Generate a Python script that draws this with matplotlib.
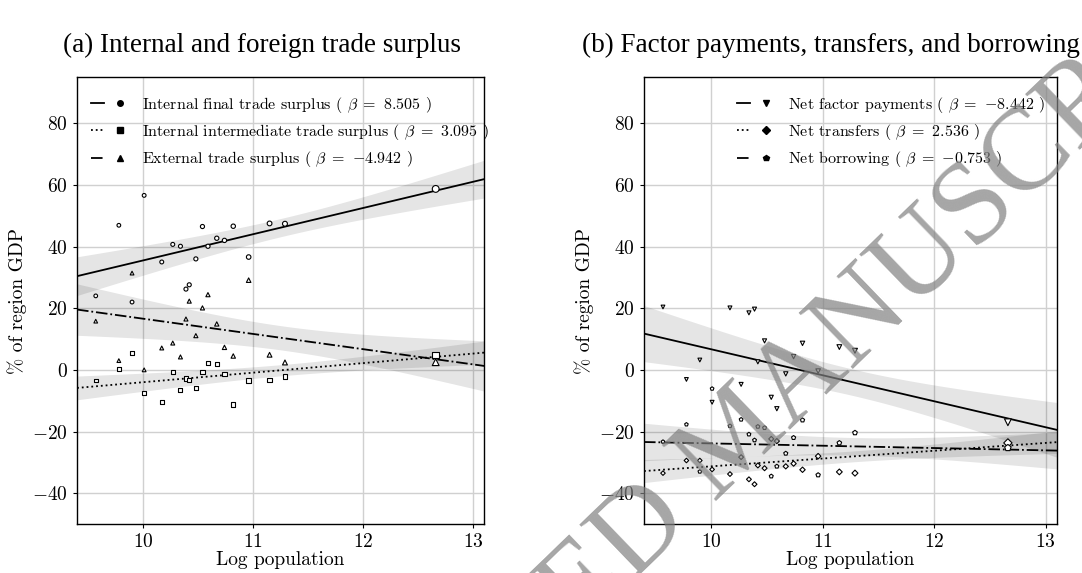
"""
Regional trade surplus and its financing against log population.
"""
import numpy as np
import matplotlib
matplotlib.use("Agg")
import matplotlib.pyplot as plt
from matplotlib.lines import Line2D
from matplotlib.legend_handler import HandlerTuple

# ---- data ---------------------------------------------------------------
log_pop = [9.57, 9.78, 9.90, 10.01, 10.17, 10.27, 10.34, 10.39, 10.42, 10.48,
           10.54, 10.59, 10.67, 10.74, 10.82, 10.96, 11.15, 11.29, 12.66]

# panel (a)
final_surplus = [24.0, 46.9, 22.0, 56.6, 35.0, 40.7, 40.1, 26.2, 27.6, 36.0,
                 46.5, 40.1, 42.7, 42.0, 46.6, 36.6, 47.5, 47.4, 58.7]
intermediate_surplus = [-3.5, 0.3, 5.5, -7.6, -10.4, -0.6, -6.6, -2.8, -3.3, -6.0,
                        -0.8, 2.3, 1.8, -1.3, -11.2, -3.4, -3.3, -2.1, 4.8]
external_surplus = [15.8, 3.0, 31.4, 0.0, 7.1, 8.7, 4.2, 16.5, 22.3, 11.1,
                    20.1, 24.4, 14.9, 7.3, 4.5, 29.1, 4.9, 2.4, 2.5]

# panel (b)
factor_payments = [20.4, -3.1, 3.2, -10.5, 20.1, -4.7, 18.5, 19.7, 2.6, 9.4,
                   -8.9, -12.6, -1.3, 4.3, 8.6, -0.4, 7.4, 6.2, -17.0]
net_transfers = [-33.5, -29.4, -29.4, -32.3, -33.8, -28.3, -35.5, -37.1, -31.0, -31.9,
                 -22.4, -23.1, -31.3, -30.4, -32.4, -28.0, -33.1, -33.5, -23.7]
net_borrowing = [-23.3, -17.7, -33.0, -6.1, -18.2, -16.1, -20.9, -22.8, -18.4, -18.8,
                 -34.5, -31.3, -27.1, -22.0, -16.3, -34.1, -23.7, -20.4, -25.3]

# reported slopes and fitted value at log population = 10
series_a = ["Internal final trade surplus", "Internal intermediate trade surplus",
            "External trade surplus"]
beta_a = [8.505, 3.095, -4.942]
fit10_a = [35.5, -4.0, 16.6]

series_b = ["Net factor payments", "Net transfers", "Net borrowing"]
beta_b = [-8.442, 2.536, -0.753]
fit10_b = [6.7, -31.3, -23.85]

titles = ["(a) Internal and foreign trade surplus",
          "(b) Factor payments, transfers, and borrowing"]

# ---- style --------------------------------------------------------------
plt.rcParams["font.family"] = "serif"
plt.rcParams["font.serif"] = ["cmr10"]
plt.rcParams["mathtext.fontset"] = "cm"
plt.rcParams["axes.formatter.use_mathtext"] = True
plt.rcParams["axes.unicode_minus"] = True

X_LIM = (9.4, 13.1)
Y_LIM = (-50, 95)
T_CRIT = 2.11  # 95%, 17 dof


def band(x, y, beta, fit10, grid):
    """ Weighted (population) confidence band around the reported fit line.
    """
    x = np.asarray(x)
    y = np.asarray(y)
    w = np.exp(x)
    w = w / w.sum() * len(x)
    resid = y - (fit10 + beta * (x - 10))
    s2 = np.sum(w * resid**2) / (len(x) - 2)
    xm = np.sum(w * x) / w.sum()
    sxx = np.sum(w * (x - xm)**2)
    se = np.sqrt(s2 * (1 / len(x) + (grid - xm)**2 / sxx))
    line = fit10 + beta * (grid - 10)
    return line, line - T_CRIT * se, line + T_CRIT * se


def panel(ax, ys, names, betas, fits, markers, anchor):
    grid = np.linspace(*X_LIM, 200)
    sizes = 7 + 1.7 * (np.asarray(log_pop) - 9.5)**2
    styles = ["-", ":", "-."]
    handles = []
    labels = []
    for y, name, b, f, m, ls in zip(ys, names, betas, fits, markers, styles):
        line, lo, hi = band(log_pop, y, b, f, grid)
        ax.fill_between(grid, lo, hi, color="k", alpha=0.1, lw=0, zorder=1)
        ax.plot(grid, line, color="k", ls=ls, lw=1.3, zorder=3)
        s = sizes * (0.75 if m == "D" else 1.0)
        ax.scatter(log_pop, y, s=s, marker=m, facecolor="white",
                   edgecolor="k", linewidth=0.8, zorder=4)
        h_line = Line2D([], [], color="k", ls=ls, lw=1.3)
        h_mark = Line2D([], [], color="k", ls="", marker=m, markersize=4)
        handles.append((h_line, h_mark))
        labels.append(name + " ( $\\beta\\;=$ $%.3f$ )" % b)

    ax.set_xlim(*X_LIM)
    ax.set_ylim(*Y_LIM)
    ax.set_xticks([10, 11, 12, 13])
    ax.set_yticks([-40, -20, 0, 20, 40, 60, 80])
    ax.grid(color="#d0d0d0", lw=1.0)
    ax.set_axisbelow(True)
    ax.tick_params(labelsize=14, length=3)
    ax.set_xlabel("Log population", fontsize=14, labelpad=0)
    ax.set_ylabel("% of region GDP", fontsize=14)
    for sp in ax.spines.values():
        sp.set_linewidth(1.0)
    ax.legend(handles, labels, loc="upper left", bbox_to_anchor=anchor,
              frameon=False, fontsize=11.5, borderpad=0, borderaxespad=0,
              handlelength=2.2, handletextpad=1.0, labelspacing=0.45,
              handler_map={tuple: HandlerTuple(ndivide=None, pad=0.6)})


fig = plt.figure(figsize=(10.82, 5.73), dpi=100)
ax_a = fig.add_axes([0.0712, 0.0855, 0.3762, 0.7801])
ax_b = fig.add_axes([0.5952, 0.0855, 0.3817, 0.7801])

panel(ax_a, [final_surplus, intermediate_surplus, external_surplus],
      series_a, beta_a, fit10_a, ["o", "s", "^"], (0.035, 0.96))
panel(ax_b, [factor_payments, net_transfers, net_borrowing],
      series_b, beta_b, fit10_b, ["v", "D", "p"], (0.225, 0.96))

fig.text(0.242, 0.92, titles[0], ha="center", va="center",
         fontsize=19.5, family="Liberation Serif")
fig.text(0.768, 0.92, titles[1], ha="center", va="center",
         fontsize=19.5, family="Liberation Serif")

# watermark
fig.text(0.682, 0.232, "ACCEPTED MANUSCRIPT", rotation=44, rotation_mode="anchor",
         ha="center", va="center", fontsize=85, family="Liberation Serif",
         color="0.5", alpha=0.7, zorder=10)

fig.savefig("out.png", dpi=100)
